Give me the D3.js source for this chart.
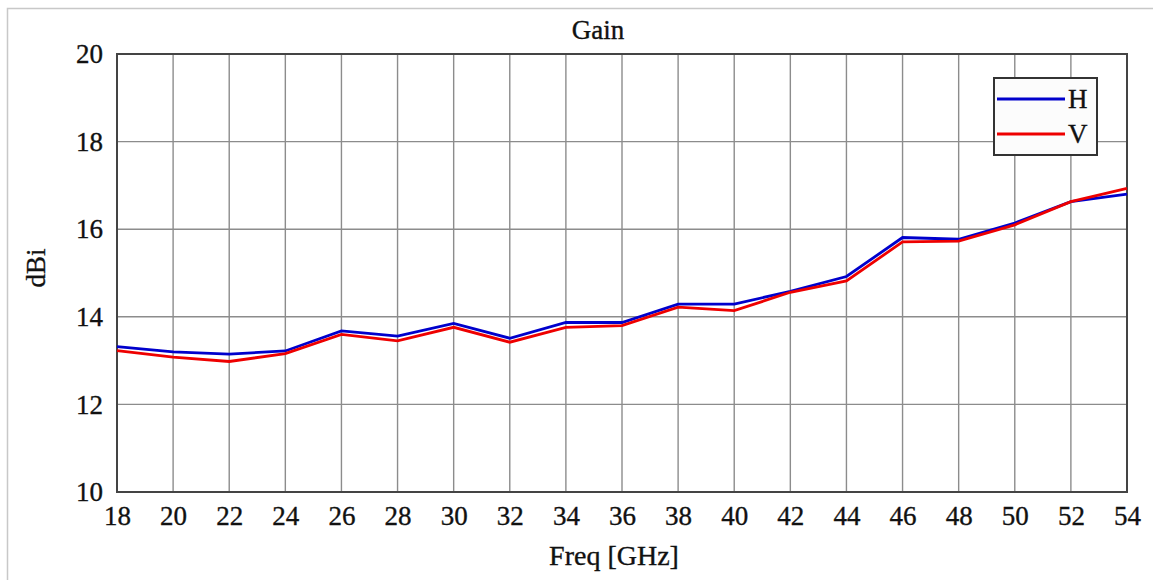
<!DOCTYPE html>
<html>
<head>
<meta charset="utf-8">
<script src="https://cdn.jsdelivr.net/npm/d3@7"></script>
<style>
  html, body { margin: 0; padding: 0; background: #fff; }
  svg text { font-family: "Liberation Serif", "DejaVu Serif", serif; fill: #111; stroke: #111; stroke-width: 0.35px; }
</style>
</head>
<body>
<div id="chart"></div>
<script>
// frequency points, GHz
const freqs = [18, 20, 22, 24, 26, 28, 30, 32, 34, 36, 38, 40, 42, 44, 46, 48, 50, 52, 54];
// gain, dBi
const gainH = [13.32, 13.20, 13.15, 13.22, 13.68, 13.56, 13.85, 13.51, 13.87, 13.87, 14.29, 14.29, 14.58, 14.92, 15.81, 15.77, 16.14, 16.63, 16.80];
const gainV = [13.23, 13.08, 12.98, 13.16, 13.60, 13.45, 13.76, 13.42, 13.76, 13.80, 14.22, 14.14, 14.56, 14.82, 15.71, 15.73, 16.10, 16.63, 16.93];
const xTicks = d3.range(18, 55, 2);
const yTicks = [10, 12, 14, 16, 18, 20];
const seriesNames = ["H", "V"];

const width = 1153;
const height = 580;
const margin = { top: 54, right: 26, bottom: 88, left: 117 };

const svg = d3.select("#chart")
  .append("svg")
  .attr("width", width)
  .attr("height", height);

// light outer frame
svg.append("path")
  .attr("d", `M7.5,${height}V8.5H${width}`)
  .attr("fill", "none")
  .attr("stroke", "#c8c8c8")
  .attr("stroke-width", 1.5);

const x = d3.scaleLinear()
  .domain([18, 54])
  .range([margin.left, width - margin.right]);

const y = d3.scaleLinear()
  .domain([10, 20])
  .range([height - margin.bottom, margin.top]);

// grid
const grid = svg.append("g").attr("stroke", "#8c8c8c").attr("stroke-width", 1.4);
grid.selectAll(".vgrid")
  .data(xTicks.slice(1, -1))
  .join("line")
  .attr("x1", (d) => x(d)).attr("x2", (d) => x(d))
  .attr("y1", y(10)).attr("y2", y(20));
grid.selectAll(".hgrid")
  .data(yTicks.slice(1, -1))
  .join("line")
  .attr("x1", x(18)).attr("x2", x(54))
  .attr("y1", (d) => y(d)).attr("y2", (d) => y(d));

// plot border
svg.append("rect")
  .attr("x", x(18))
  .attr("y", y(20))
  .attr("width", x(54) - x(18))
  .attr("height", y(10) - y(20))
  .attr("fill", "none")
  .attr("stroke", "#444")
  .attr("stroke-width", 2);

// axes labels via d3 axes, domain and ticks hidden
const xAxis = svg.append("g")
  .attr("transform", `translate(0,${y(10)})`)
  .call(d3.axisBottom(x).tickValues(xTicks).tickSize(0).tickPadding(14).tickFormat(d3.format("d")));
xAxis.select(".domain").remove();
xAxis.selectAll("text")
  .attr("font-size", 27)
  .attr("fill", "#111");

const yAxis = svg.append("g")
  .attr("transform", `translate(${x(18)},0)`)
  .call(d3.axisLeft(y).tickValues(yTicks).tickSize(0).tickPadding(14).tickFormat(d3.format("d")));
yAxis.select(".domain").remove();
yAxis.selectAll("text")
  .attr("font-size", 27)
  .attr("fill", "#111");

// lines
const line = d3.line()
  .x((d) => x(d[0]))
  .y((d) => y(d[1]));

const series = [
  { name: seriesNames[0], color: "#0000cc", values: gainH },
  { name: seriesNames[1], color: "#ee0000", values: gainV },
];

svg.append("g")
  .selectAll("path")
  .data(series)
  .join("path")
  .attr("d", (s) => line(freqs.map((f, i) => [f, s.values[i]])))
  .attr("fill", "none")
  .attr("stroke", (s) => s.color)
  .attr("stroke-width", 2.8);

// title and axis titles
svg.append("text")
  .attr("x", 598)
  .attr("y", 39)
  .attr("text-anchor", "middle")
  .attr("font-size", 27)
  .text("Gain");

svg.append("text")
  .attr("x", 614)
  .attr("y", 565)
  .attr("text-anchor", "middle")
  .attr("font-size", 28)
  .text("Freq [GHz]");

svg.append("text")
  .attr("transform", "translate(45,268) rotate(-90)")
  .attr("text-anchor", "middle")
  .attr("font-size", 27)
  .text("dBi");

// legend
const legend = svg.append("g").attr("transform", "translate(994,78)");
legend.append("rect")
  .attr("width", 103)
  .attr("height", 77)
  .attr("fill", "#fcfcfc")
  .attr("stroke", "#333")
  .attr("stroke-width", 2);

const item = legend.selectAll(".item")
  .data(series)
  .join("g")
  .attr("transform", (d, i) => `translate(0,${21 + i * 35})`);
item.append("line")
  .attr("x1", 3).attr("x2", 71)
  .attr("stroke", (d) => d.color)
  .attr("stroke-width", 2.8);
item.append("text")
  .attr("x", 74)
  .attr("dy", "0.35em")
  .attr("font-size", 27)
  .text((d) => d.name);
</script>
</body>
</html>
